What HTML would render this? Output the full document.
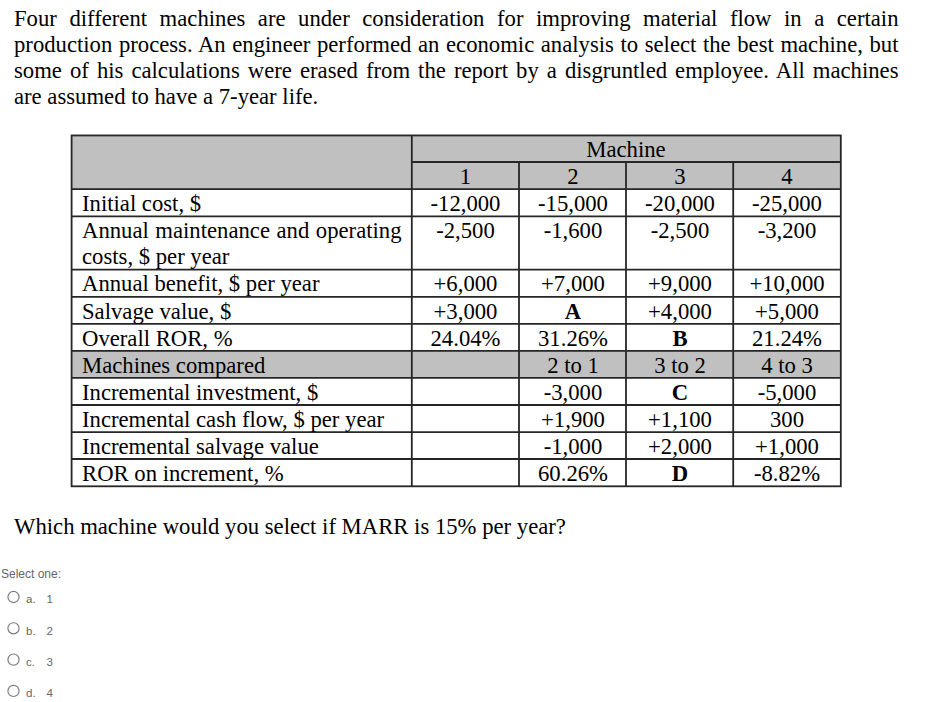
<!DOCTYPE html>
<html><head><meta charset="utf-8"><style>
html,body{margin:0;padding:0;background:#fff;}
body{width:945px;height:702px;position:relative;overflow:hidden;}
div{position:absolute;}
.pj,.pl,.t,.c,.tj{font-family:"Liberation Serif", serif;font-size:22.7px;line-height:26px;color:#000;white-space:nowrap;}
.pj{left:14px;width:884.5px;text-align:justify;text-align-last:justify;white-space:normal;}
.pl{left:14px;}
.tj{width:319.5px;text-align:justify;text-align-last:justify;white-space:normal;}
.c{width:120px;text-align:center;}
.c b,.b{font-weight:bold;}
.g{background:#c0c0c0;}
.l{background:#000;}
.s{font-family:"Liberation Sans",sans-serif;font-size:12px;line-height:22px;color:#666;white-space:nowrap;}
.o{font-size:11.5px;}
</style></head><body>
<div class="pj" style="top:5.74px">Four different machines are under consideration for improving material flow in a certain</div>
<div class="pj" style="top:31.84px">production process. An engineer performed an economic analysis to select the best machine, but</div>
<div class="pj" style="top:57.94px">some of his calculations were erased from the report by a disgruntled employee. All machines</div>
<div class="pl" style="top:84.04px">are assumed to have a 7-year life.</div>
<svg width="945" height="702" style="position:absolute;left:0;top:0" shape-rendering="geometricPrecision"><rect x="71.6" y="135.45" width="769.1999999999999" height="53.650000000000006" fill="#c0c0c0"/><rect x="71.6" y="350.8" width="769.1999999999999" height="27.0" fill="#c0c0c0"/><g stroke="#262626" stroke-width="1.8" stroke-linecap="butt"><rect x="71.6" y="135.45" width="769.20" height="350.85" fill="none"/><line x1="411.8" y1="162.0" x2="840.8" y2="162.0"/><line x1="71.6" y1="189.1" x2="840.8" y2="189.1"/><line x1="71.6" y1="216.3" x2="840.8" y2="216.3"/><line x1="71.6" y1="269.6" x2="840.8" y2="269.6"/><line x1="71.6" y1="296.8" x2="840.8" y2="296.8"/><line x1="71.6" y1="323.8" x2="840.8" y2="323.8"/><line x1="71.6" y1="350.8" x2="840.8" y2="350.8"/><line x1="71.6" y1="377.8" x2="840.8" y2="377.8"/><line x1="71.6" y1="405.0" x2="840.8" y2="405.0"/><line x1="71.6" y1="432.1" x2="840.8" y2="432.1"/><line x1="71.6" y1="459.0" x2="840.8" y2="459.0"/><line x1="411.8" y1="135.45" x2="411.8" y2="486.3"/><line x1="519.0" y1="162.0" x2="519.0" y2="486.3"/><line x1="626.0" y1="162.0" x2="626.0" y2="486.3"/><line x1="733.2" y1="162.0" x2="733.2" y2="486.3"/></g></svg>
<div class="c" style="left:566.0px;top:136.54px">Machine</div>
<div class="c" style="left:405.5px;top:163.54px">1</div>
<div class="c" style="left:513.0px;top:163.54px">2</div>
<div class="c" style="left:620.0px;top:163.54px">3</div>
<div class="c" style="left:727.0px;top:163.54px">4</div>
<div class="t" style="left:82px;top:190.54px">Initial cost, $</div>
<div class="c" style="left:405.5px;top:190.54px">-12,000</div>
<div class="c" style="left:513.0px;top:190.54px">-15,000</div>
<div class="c" style="left:620.0px;top:190.54px">-20,000</div>
<div class="c" style="left:727.0px;top:190.54px">-25,000</div>
<div class="tj" style="left:82px;top:217.54px">Annual maintenance and operating</div>
<div class="t" style="left:82px;top:243.54px">costs, $ per year</div>
<div class="c" style="left:405.5px;top:217.54px">-2,500</div>
<div class="c" style="left:513.0px;top:217.54px">-1,600</div>
<div class="c" style="left:620.0px;top:217.54px">-2,500</div>
<div class="c" style="left:727.0px;top:217.54px">-3,200</div>
<div class="t" style="left:82px;top:270.54px">Annual benefit, $ per year</div>
<div class="c" style="left:405.5px;top:270.54px">+6,000</div>
<div class="c" style="left:513.0px;top:270.54px">+7,000</div>
<div class="c" style="left:620.0px;top:270.54px">+9,000</div>
<div class="c" style="left:727.0px;top:270.54px">+10,000</div>
<div class="t" style="left:82px;top:298.54px">Salvage value, $</div>
<div class="c" style="left:405.5px;top:298.54px">+3,000</div>
<div class="c" style="left:513.0px;top:298.54px"><b>A</b></div>
<div class="c" style="left:620.0px;top:298.54px">+4,000</div>
<div class="c" style="left:727.0px;top:298.54px">+5,000</div>
<div class="t" style="left:82px;top:325.54px">Overall ROR, %</div>
<div class="c" style="left:405.5px;top:325.54px">24.04%</div>
<div class="c" style="left:513.0px;top:325.54px">31.26%</div>
<div class="c" style="left:620.0px;top:325.54px"><b>B</b></div>
<div class="c" style="left:727.0px;top:325.54px">21.24%</div>
<div class="t" style="left:82px;top:352.54px">Machines compared</div>
<div class="c" style="left:513.0px;top:352.54px">2 to 1</div>
<div class="c" style="left:620.0px;top:352.54px">3 to 2</div>
<div class="c" style="left:727.0px;top:352.54px">4 to 3</div>
<div class="t" style="left:82px;top:379.54px">Incremental investment, $</div>
<div class="c" style="left:513.0px;top:379.54px">-3,000</div>
<div class="c" style="left:620.0px;top:379.54px"><b>C</b></div>
<div class="c" style="left:727.0px;top:379.54px">-5,000</div>
<div class="t" style="left:82px;top:406.54px">Incremental cash flow, $ per year</div>
<div class="c" style="left:513.0px;top:406.54px">+1,900</div>
<div class="c" style="left:620.0px;top:406.54px">+1,100</div>
<div class="c" style="left:727.0px;top:406.54px">300</div>
<div class="t" style="left:82px;top:433.54px">Incremental salvage value</div>
<div class="c" style="left:513.0px;top:433.54px">-1,000</div>
<div class="c" style="left:620.0px;top:433.54px">+2,000</div>
<div class="c" style="left:727.0px;top:433.54px">+1,000</div>
<div class="t" style="left:82px;top:460.54px">ROR on increment, %</div>
<div class="c" style="left:513.0px;top:460.54px">60.26%</div>
<div class="c" style="left:620.0px;top:460.54px"><b>D</b></div>
<div class="c" style="left:727.0px;top:460.54px">-8.82%</div>
<div class="t" style="left:14px;top:513.54px">Which machine would you select if MARR is 15% per year?</div>
<div class="s" style="left:1px;top:562.64px">Select one:</div>
<div class="s o" style="left:26px;top:588.22px">a.</div>
<div class="s o" style="left:46.5px;top:588.22px">1</div>
<div class="s o" style="left:26px;top:619.52px">b.</div>
<div class="s o" style="left:46.5px;top:619.52px">2</div>
<div class="s o" style="left:26px;top:650.82px">c.</div>
<div class="s o" style="left:46.5px;top:650.82px">3</div>
<div class="s o" style="left:26px;top:682.12px">d.</div>
<div class="s o" style="left:46.5px;top:682.12px">4</div>
<svg width="40" height="702" style="position:absolute;left:0;top:0"><g fill="none" stroke="#7a7a7a" stroke-width="1.15"><circle cx="13.5" cy="597" r="5.6"/><circle cx="13.5" cy="628.3" r="5.6"/><circle cx="13.5" cy="659.6" r="5.6"/><circle cx="13.5" cy="690.9" r="5.6"/></g></svg>
</body></html>
